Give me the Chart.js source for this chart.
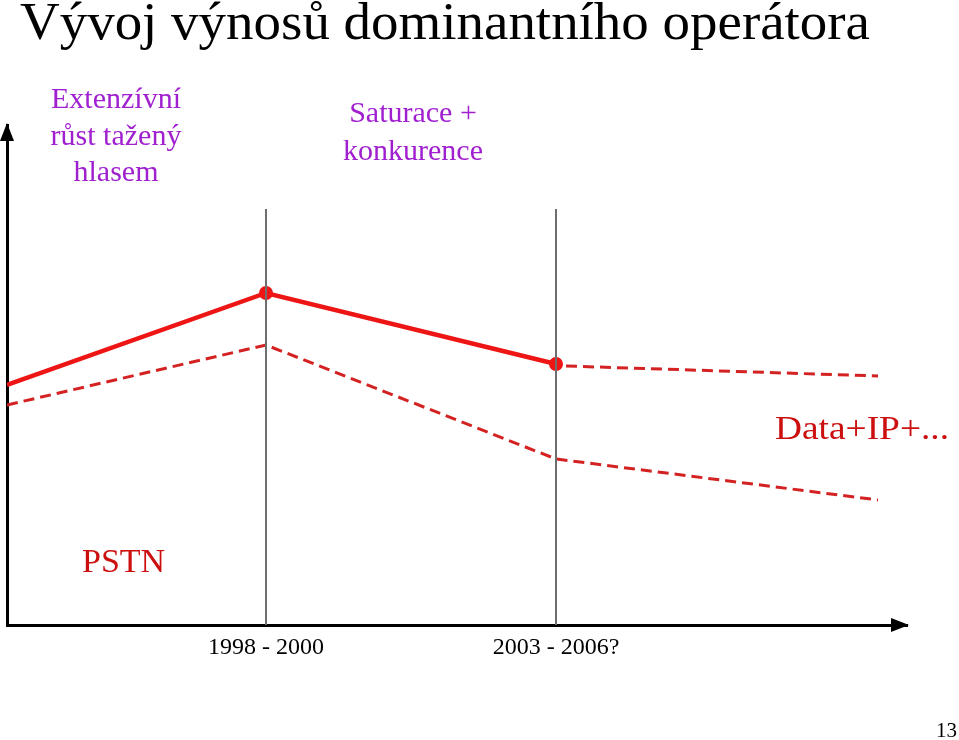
<!DOCTYPE html>
<html>
<head>
<meta charset="utf-8">
<script src="https://cdn.jsdelivr.net/npm/chart.js@4"></script>
<style>
  html, body { margin: 0; padding: 0; background: #fff; }
  #c { display: block; }
</style>
</head>
<body>
<canvas id="c" width="959" height="740"></canvas>
<script>
// --- data (x: time units along the axis, y: revenue level) ---
const pstnX = [0, 259, 549];
const pstnY = [240, 332, 261];
const dataIpX = [559, 871];
const dataIpY = [259, 249];
const trendX = [0, 259, 549, 871];
const trendY = [220, 280, 166, 125];
const phaseX = [259, 549];          // period boundaries
const phaseTop = 416;
const tickLabels = ["1998 - 2000", "2003 - 2006?"];

const SERIF = "'Liberation Serif', 'Times New Roman', serif";
const pts = (xs, ys) => xs.map((x, i) => ({ x: x, y: ys[i] }));

const datasets = phaseX.map(x => ({
    data: [{ x: x, y: 0 }, { x: x, y: phaseTop }],
    borderColor: "#6e6e6e", borderWidth: 2, pointRadius: 0
}));
datasets.push({
    data: pts(pstnX, pstnY),
    borderColor: "#ee1515", borderWidth: 4.5,
    pointRadius: [0, 7, 7], pointBackgroundColor: "#ee1515", pointBorderWidth: 0
});
datasets.push({
    data: pts(dataIpX, dataIpY),
    borderColor: "#d42222", borderWidth: 3, borderDash: [11, 6], pointRadius: 0
});
datasets.push({
    data: pts(trendX, trendY),
    borderColor: "#d42222", borderWidth: 3, borderDash: [11, 6], pointRadius: 0
});

// text squeezed/stretched to the width it has on the slide
function fitText(ctx, t, x, y, w) {
    const m = ctx.measureText(t).width;
    ctx.save();
    ctx.translate(x, y);
    ctx.scale(w / m, 1);
    ctx.fillText(t, 0, 0);
    ctx.restore();
}

// arrows + slide texts
const slide = {
    id: "slide",
    afterDraw(chart) {
        const ctx = chart.ctx, a = chart.chartArea;
        ctx.save();
        ctx.fillStyle = "#000";
        ctx.beginPath();
        ctx.moveTo(a.left, a.top - 2);
        ctx.lineTo(a.left - 7, a.top + 16);
        ctx.lineTo(a.left + 7, a.top + 16);
        ctx.fill();
        ctx.beginPath();
        ctx.moveTo(a.right + 2, a.bottom);
        ctx.lineTo(a.right - 16, a.bottom - 7);
        ctx.lineTo(a.right - 16, a.bottom + 7);
        ctx.fill();

        ctx.textBaseline = "alphabetic";
        ctx.textAlign = "left";
        ctx.fillStyle = "#000";
        ctx.font = "52px " + SERIF;
        fitText(ctx, "Vývoj výnosů dominantního operátora", 20, 39, 850);

        ctx.fillStyle = "#a020d0";
        ctx.font = "30px " + SERIF;
        ctx.textAlign = "center";
        ["Extenzívní", "růst tažený", "hlasem"].forEach((t, i) => ctx.fillText(t, 116, 108 + i * 36.5));
        ["Saturace +", "konkurence"].forEach((t, i) => ctx.fillText(t, 413, 122 + i * 38));

        ctx.textAlign = "left";
        ctx.fillStyle = "#cc1010";
        ctx.font = "34px " + SERIF;
        fitText(ctx, "Data+IP+...", 775, 439, 174);
        ctx.fillText("PSTN", 82, 572);

        ctx.fillStyle = "#000";
        ctx.font = "21px " + SERIF;
        ctx.textAlign = "right";
        ctx.fillText("13", 957, 737);
        ctx.restore();
    }
};

new Chart(document.getElementById("c"), {
    type: "line",
    data: { datasets: datasets },
    options: {
        responsive: false,
        animation: false,
        layout: { padding: { left: 7, right: 52, top: 125, bottom: 75 } },
        plugins: { legend: { display: false }, tooltip: { enabled: false } },
        scales: {
            x: {
                type: "linear", min: 0, max: 900,
                grid: { display: false, drawTicks: false },
                border: { display: true, color: "#000", width: 3 },
                afterBuildTicks: s => { s.ticks = phaseX.map(v => ({ value: v })); },
                afterFit: s => { s.height = 40; },
                ticks: {
                    autoSkip: false, maxRotation: 0, padding: 8,
                    color: "#000", font: { family: SERIF, size: 24 },
                    callback: (v) => tickLabels[phaseX.indexOf(v)]
                }
            },
            y: {
                min: 0, max: 500,
                grid: { display: false, drawTicks: false },
                border: { display: true, color: "#000", width: 3 },
                ticks: { display: false },
                afterFit: s => { s.width = 0; }
            }
        }
    },
    plugins: [slide]
});
</script>
</body>
</html>
